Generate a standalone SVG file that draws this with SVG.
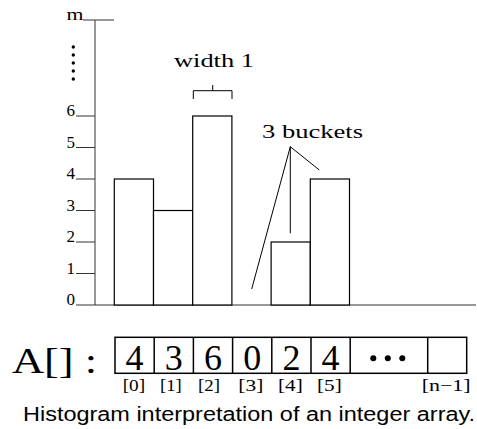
<svg xmlns="http://www.w3.org/2000/svg" width="477" height="429" viewBox="0 0 477 429">
<style>
.ax{stroke:#333;stroke-width:1;fill:none}
.bar{stroke:#000;stroke-width:1.2;fill:#fff}
.ln{stroke:#000;stroke-width:1;fill:none}
.arr{stroke:#000;stroke-width:1.5;fill:none}
.lab{font-family:"Liberation Serif",serif;font-size:18px;fill:#000}
.num{font-family:"Liberation Serif",serif;font-size:17px;fill:#000}
.big{font-family:"Liberation Serif",serif;font-size:36px;fill:#000}
.idx{font-family:"Liberation Serif",serif;font-size:17px;fill:#000}
.cap{font-family:"Liberation Sans",sans-serif;font-size:20px;fill:#000}
</style>
<rect width="477" height="429" fill="#fff"/>
<g id="axes">
<line class="ax" x1="95" y1="20" x2="95" y2="305"/>
<line class="ax" x1="76" y1="305" x2="476" y2="305"/>
<line class="ax" x1="83" y1="20" x2="114" y2="20"/>
<line class="ax" x1="76" y1="273.5" x2="95" y2="273.5"/>
<line class="ax" x1="76" y1="242" x2="95" y2="242"/>
<line class="ax" x1="76" y1="210.5" x2="95" y2="210.5"/>
<line class="ax" x1="76" y1="179" x2="95" y2="179"/>
<line class="ax" x1="76" y1="147.5" x2="95" y2="147.5"/>
<line class="ax" x1="76" y1="116" x2="95" y2="116"/>
<text class="num" x="66.5" y="20" textLength="17" lengthAdjust="spacingAndGlyphs">m</text>
<text class="num" x="66.5" y="305">0</text>
<text class="num" x="66.5" y="273.5">1</text>
<text class="num" x="66.5" y="242">2</text>
<text class="num" x="66.5" y="210.5">3</text>
<text class="num" x="66.5" y="179">4</text>
<text class="num" x="66.5" y="147.5">5</text>
<text class="num" x="66.5" y="116">6</text>
<g fill="#000">
<circle cx="73.3" cy="47" r="1.7"/>
<circle cx="73.3" cy="55" r="1.7"/>
<circle cx="73.3" cy="63" r="1.7"/>
<circle cx="73.3" cy="71" r="1.7"/>
<circle cx="73.3" cy="79" r="1.7"/>
</g>
</g>
<g id="bars">
<rect class="bar" x="114.3" y="179" width="39.2" height="126"/>
<rect class="bar" x="153.5" y="210.5" width="39.2" height="94.5"/>
<rect class="bar" x="192.7" y="116" width="39.2" height="189"/>
<rect class="bar" x="271.1" y="242" width="39.2" height="63"/>
<rect class="bar" x="310.3" y="179" width="39.2" height="126"/>
</g>
<g id="width-label">
<text class="lab" x="174" y="66.7" textLength="80" lengthAdjust="spacingAndGlyphs">width 1</text>
<path class="ln" d="M193.3 99 V90.7 H232 V99 M212.7 85 V90.7"/>
</g>
<g id="buckets-label">
<text class="lab" x="262" y="138" textLength="101" lengthAdjust="spacingAndGlyphs">3 buckets</text>
<path class="ln" d="M251.7 289 L290.3 146.7 L319.3 170 M290.3 146.7 V233.3"/>
</g>
<g id="array">
<text class="big" x="12" y="373" font-size="42" textLength="85" lengthAdjust="spacingAndGlyphs">A[] :</text>
<rect class="arr" x="115" y="337.3" width="351.7" height="36"/>
<path class="arr" d="M154.2 337.3 V373.3 M193.4 337.3 V373.3 M232.6 337.3 V373.3 M271.8 337.3 V373.3 M311 337.3 V373.3 M350.2 337.3 V373.3 M427.7 337.3 V373.3"/>
<text class="big" x="134.6" y="370" text-anchor="middle">4</text>
<text class="big" x="173.8" y="370" text-anchor="middle">3</text>
<text class="big" x="213" y="370" text-anchor="middle">6</text>
<text class="big" x="252.2" y="370" text-anchor="middle">0</text>
<text class="big" x="291.4" y="370" text-anchor="middle">2</text>
<text class="big" x="330.6" y="370" text-anchor="middle">4</text>
<g fill="#000">
<circle cx="373.3" cy="358.3" r="3"/>
<circle cx="387.8" cy="358.3" r="3"/>
<circle cx="402.3" cy="358.3" r="3"/>
</g>
<text class="idx" x="122.7" y="391" textLength="22.5" lengthAdjust="spacingAndGlyphs">[0]</text>
<text class="idx" x="160" y="391" textLength="21.7" lengthAdjust="spacingAndGlyphs">[1]</text>
<text class="idx" x="198" y="391" textLength="22" lengthAdjust="spacingAndGlyphs">[2]</text>
<text class="idx" x="238.3" y="391" textLength="25" lengthAdjust="spacingAndGlyphs">[3]</text>
<text class="idx" x="278" y="391" textLength="24.7" lengthAdjust="spacingAndGlyphs">[4]</text>
<text class="idx" x="317" y="391" textLength="24.7" lengthAdjust="spacingAndGlyphs">[5]</text>
<text class="idx" x="421.7" y="391" textLength="49" lengthAdjust="spacingAndGlyphs">[n−1]</text>
</g>
<text class="cap" x="23" y="421" textLength="452" lengthAdjust="spacingAndGlyphs">Histogram interpretation of an integer array.</text>
</svg>
